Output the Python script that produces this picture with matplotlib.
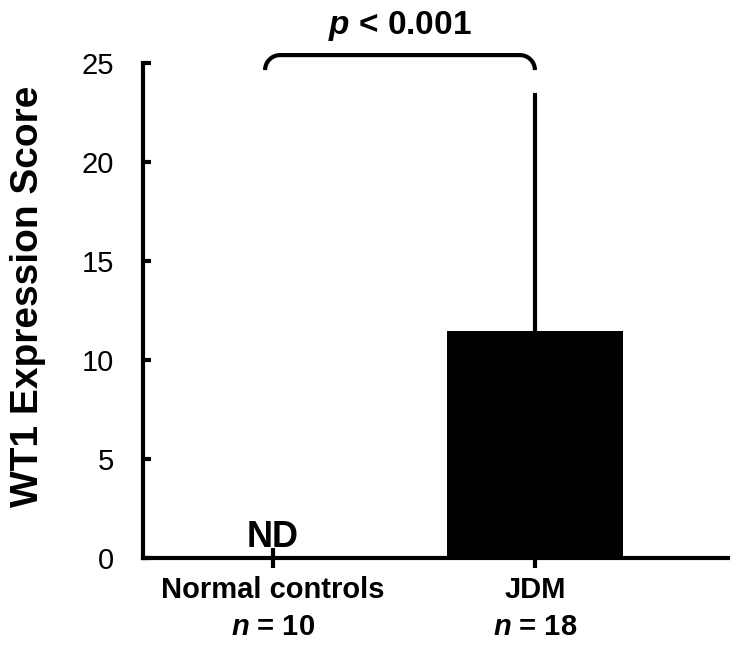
import numpy as np
import matplotlib
matplotlib.use("Agg")
import matplotlib.pyplot as plt

plt.rcParams['font.family'] = ['Liberation Sans', 'DejaVu Sans']
plt.rcParams['mathtext.fontset'] = 'custom'
plt.rcParams['mathtext.it'] = 'Liberation Sans:italic:bold'
plt.rcParams['mathtext.rm'] = 'Liberation Sans:bold'

# data
groups = ["Normal controls", "JDM"]
n_per_group = [10, 18]
means = [0.0, 11.45]
err_up = [0.0, 11.95]
yticks = [0, 5, 10, 15, 20, 25]
p_text = "$p$ < 0.001"

fig = plt.figure(figsize=(7.45, 6.51), dpi=100)
ax = fig.add_axes([143/745, 1-558/651, (728-143)/745, (558-63)/651])

x = np.arange(len(groups))
ax.bar(x[1], means[1], width=0.675, color='black', zorder=2)
ax.errorbar(x[1], means[1], yerr=[[0], [err_up[1]]], fmt='none', ecolor='black',
            elinewidth=3, capsize=1.5, capthick=3, zorder=1)

ax.set_xlim(-0.496, 1.737)
ax.set_ylim(0, 25)
ax.set_yticks(yticks)
ax.set_yticklabels([str(t) for t in yticks], fontsize=21)
ax.set_xticks(x)
ax.set_xticklabels([])

for s in ['top', 'right']:
    ax.spines[s].set_visible(False)
for s in ['left', 'bottom']:
    ax.spines[s].set_linewidth(3)
ax.tick_params(axis='y', direction='in', length=6, width=3, pad=21)
ax.tick_params(axis='x', direction='inout', length=14, width=3)

# ND label
ax.text(x[0], 0.55, "ND", ha='center', va='baseline', fontsize=26, fontweight='bold')

# category labels
for xi, g, n in zip(x, groups, n_per_group):
    ax.annotate(g, xy=(xi, 0), xycoords=('data', 'axes fraction'),
                xytext=(0, -23), textcoords='offset points',
                ha='center', va='center', fontsize=21, fontweight='bold')
    ax.annotate(f"$n$ = {n}", xy=(xi, 0), xycoords=('data', 'axes fraction'),
                xytext=(0, -50), textcoords='offset points',
                ha='center', va='center', fontsize=21, fontweight='bold')

fig.text(28/745, 1-296/651, "WT1 Expression Score", rotation=90,
         ha='center', va='center', fontsize=28, fontweight='bold')

# significance bracket (drawn in pixel space for round corners)
fig.canvas.draw()
x0, ytop = ax.transData.transform((x[0] - 0.03, 25.4))
x1, _ = ax.transData.transform((x[1], 25.4))
r = 15
th = np.linspace(np.pi, np.pi/2, 20)
left = np.c_[x0 + r + r*np.cos(th), ytop - r + r*np.sin(th)]
th2 = np.linspace(np.pi/2, 0, 20)
right = np.c_[x1 - r + r*np.cos(th2), ytop - r + r*np.sin(th2)]
pts = np.vstack([left, right])
ax.plot(pts[:, 0], pts[:, 1], transform=None, color='black', lw=3,
        solid_capstyle='butt', clip_on=False)

xm = (x[0] - 0.03 + x[1]) / 2
ax.text(xm, 26.45, p_text, ha='center', va='baseline', fontsize=24, fontweight='bold')

fig.savefig("out.png", dpi=100)
